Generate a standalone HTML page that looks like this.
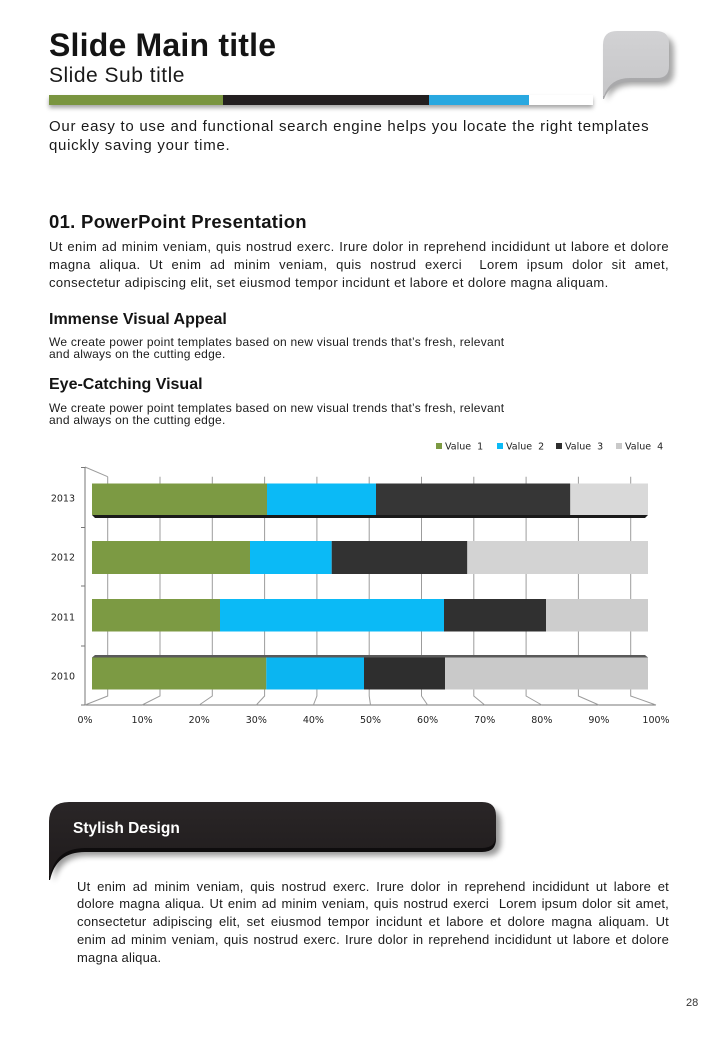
<!DOCTYPE html>
<html><head><meta charset="utf-8">
<style>
html,body{margin:0;padding:0;background:#fff;}
body{width:720px;height:1040px;position:relative;overflow:hidden;font-family:"Liberation Sans",sans-serif;color:#1c1c1c;}
.a{position:absolute;white-space:nowrap;}
.j{text-align:justify;text-align-last:justify;}
.b{font-weight:bold;}
</style></head>
<body>
<svg class="a" style="left:0;top:0" width="720" height="1040" viewBox="0 0 720 1040">
<defs>
<filter id="sh" x="-20%" y="-20%" width="150%" height="170%"><feGaussianBlur stdDeviation="3"/></filter>
<linearGradient id="bub" x1="0" y1="0" x2="0" y2="1"><stop offset="0" stop-color="#d2d2d4"/><stop offset="1" stop-color="#c6c6c8"/></linearGradient>
<linearGradient id="ban" x1="0" y1="0" x2="0" y2="1"><stop offset="0" stop-color="#2a2627"/><stop offset="1" stop-color="#1f1b1c"/></linearGradient>
</defs>
<!-- speech bubble -->
<path d="M619 36 H660 Q674 36 674 50 V72 Q674 85 661 85 H633 Q613 85 607 101 V51 Q607 36 619 36 Z" fill="#000" opacity="0.35" filter="url(#sh)"/>
<path d="M617 34 H656 Q669 34 669 48 V70 Q669 82 657 82 H630 Q610 82 604 99 L603 99 V48 Q603 34 617 34 Z" fill="#a9a9ab"/>
<path d="M617 31 H656 Q669 31 669 44 V66 Q669 78 657 78 H630 Q610 78 604 96 L603 96 V45 Q603 31 617 31 Z" fill="url(#bub)"/>
<!-- banner -->
<path d="M72 808 H486 Q501 808 501 823 V842 Q501 856 487 856 H88 Q60 856 54 882 V828 Q54 808 72 808 Z" fill="#000" opacity="0.4" filter="url(#sh)"/>
<path d="M69 805 H482 Q496 805 496 819 V839 Q496 852 482 852 H85 Q56 852 50 880 L49 880 V825 Q49 805 69 805 Z" fill="#0e0c0d"/>
<path d="M69 802 H482 Q496 802 496 816 V835 Q496 848 482 848 H85 Q56 848 50 876 L49 876 V822 Q49 802 69 802 Z" fill="url(#ban)"/>

<!-- chart grid -->
<g stroke="#9c9c9c" stroke-width="1" fill="none">
<polyline points="85,467 107.7,476.7"/>
<line x1="85" y1="467" x2="85" y2="705" stroke="#777"/>
<line x1="85" y1="705" x2="656" y2="705" stroke="#777"/>
<polyline points="107.7,476.7 107.7,696 85,705"/>
<polyline points="160,476.7 160,696 142.1,705"/>
<polyline points="212.3,476.7 212.3,696 199.2,705"/>
<polyline points="264.6,476.7 264.6,696 256.3,705"/>
<polyline points="316.9,476.7 316.9,696 313.4,705"/>
<polyline points="369.2,476.7 369.2,696 370.5,705"/>
<polyline points="421.5,476.7 421.5,696 427.6,705"/>
<polyline points="473.8,476.7 473.8,696 484.7,705"/>
<polyline points="526.1,476.7 526.1,696 541.8,705"/>
<polyline points="578.4,476.7 578.4,696 598.9,705"/>
<polyline points="630.7,476.7 630.7,696 656,705"/>
</g>
<g stroke="#777" stroke-width="1">
<line x1="81" y1="467.5" x2="85" y2="467.5"/>
<line x1="81" y1="527.5" x2="85" y2="527.5"/>
<line x1="81" y1="586" x2="85" y2="586"/>
<line x1="81" y1="646" x2="85" y2="646"/>
<line x1="81" y1="705" x2="85" y2="705"/>
</g>
<!-- bars -->
<g>
<!-- 2013 -->
<polygon points="92,515 648,515 645,518 95,518" fill="#1a1a1a"/>
<rect x="92" y="483.5" width="175" height="31.5" fill="#7c9a43"/>
<rect x="267" y="483.5" width="109" height="31.5" fill="#0bbaf6"/>
<rect x="376" y="483.5" width="194.3" height="31.5" fill="#363636"/>
<rect x="570.3" y="483.5" width="77.7" height="31.5" fill="#d9d9d9"/>
<!-- 2012 -->
<rect x="92" y="541" width="158" height="33" fill="#7c9a43"/>
<rect x="250" y="541" width="81.7" height="33" fill="#0bbaf6"/>
<rect x="331.7" y="541" width="135.6" height="33" fill="#323232"/>
<rect x="467.3" y="541" width="180.7" height="33" fill="#d3d3d3"/>
<!-- 2011 -->
<rect x="92" y="599" width="128" height="32.5" fill="#7c9a43"/>
<rect x="220" y="599" width="224" height="32.5" fill="#0bbaf6"/>
<rect x="444" y="599" width="102" height="32.5" fill="#303030"/>
<rect x="546" y="599" width="102" height="32.5" fill="#cdcdcd"/>
<!-- 2010 -->
<polygon points="95,655 645,655 648,657.5 92,657.5" fill="#5a5a5a"/>
<rect x="92" y="657.5" width="174.3" height="32" fill="#7c9a43"/>
<rect x="266.3" y="657.5" width="97.7" height="32" fill="#0bb5f1"/>
<rect x="364" y="657.5" width="81" height="32" fill="#2e2e2e"/>
<rect x="445" y="657.5" width="203" height="32" fill="#c9c9c9"/>
</g>
<!-- labels -->
<g font-family="'DejaVu Sans','Liberation Sans',sans-serif" font-size="9.5" fill="#222">
<text x="75" y="501.5" text-anchor="end">2013</text>
<text x="75" y="560.5" text-anchor="end">2012</text>
<text x="75" y="620.5" text-anchor="end">2011</text>
<text x="75" y="679.5" text-anchor="end">2010</text>
<text x="85" y="723" text-anchor="middle">0%</text>
<text x="142.1" y="723" text-anchor="middle">10%</text>
<text x="199.2" y="723" text-anchor="middle">20%</text>
<text x="256.3" y="723" text-anchor="middle">30%</text>
<text x="313.4" y="723" text-anchor="middle">40%</text>
<text x="370.5" y="723" text-anchor="middle">50%</text>
<text x="427.6" y="723" text-anchor="middle">60%</text>
<text x="484.7" y="723" text-anchor="middle">70%</text>
<text x="541.8" y="723" text-anchor="middle">80%</text>
<text x="598.9" y="723" text-anchor="middle">90%</text>
<text x="656" y="723" text-anchor="middle">100%</text>
</g>
<g font-family="'DejaVu Sans','Liberation Sans',sans-serif" font-size="9.5" fill="#222">
<rect x="436" y="443" width="6" height="6" fill="#7c9a43"/>
<text x="445" y="449.5" xml:space="preserve">Value  1</text>
<rect x="497" y="443" width="6" height="6" fill="#0bbaf6"/>
<text x="506" y="449.5" xml:space="preserve">Value  2</text>
<rect x="556" y="443" width="6" height="6" fill="#2e2e2e"/>
<text x="565" y="449.5" xml:space="preserve">Value  3</text>
<rect x="616" y="443" width="6" height="6" fill="#c9c9c9"/>
<text x="625" y="449.5" xml:space="preserve">Value  4</text>
</g>
</svg>

<!-- header -->
<div class="a b" style="left:49px;top:29px;font-size:32px;line-height:32px;color:#141414;letter-spacing:0.2px;">Slide Main title</div>
<div class="a" style="left:49px;top:65px;font-size:21px;line-height:21px;color:#1a1a1a;letter-spacing:0.5px;">Slide Sub title</div>
<div class="a" style="left:49px;top:95px;width:544px;height:10px;box-shadow:0 3px 4px rgba(0,0,0,0.35);background:#fff;">
  <div class="a" style="left:0;top:0;width:174px;height:10px;background:#7a9540;"></div>
  <div class="a" style="left:174px;top:0;width:206px;height:10px;background:#231f20;"></div>
  <div class="a" style="left:380px;top:0;width:100px;height:10px;background:#29a8e0;"></div>
</div>
<div class="a" style="left:49px;top:116.5px;font-size:15px;line-height:19.5px;color:#1a1a1a;letter-spacing:0.72px;">Our easy to use and functional search engine helps you locate the right templates<br>quickly saving your time.</div>

<!-- section 01 -->
<div class="a b" style="left:49px;top:211.5px;font-size:18.5px;line-height:20px;color:#141414;letter-spacing:0.3px;">01. PowerPoint Presentation</div>
<div class="a" style="left:49px;top:237.5px;width:620px;font-size:13px;line-height:18px;color:#1c1c1c;letter-spacing:0.4px;">
  <div class="j">Ut enim ad minim veniam, quis nostrud exerc. Irure dolor in reprehend incididunt ut labore et dolore</div>
  <div class="j">magna aliqua. Ut enim ad minim veniam, quis nostrud exerci &nbsp;Lorem ipsum dolor sit amet,</div>
  <div>consectetur adipiscing elit, set eiusmod tempor incidunt et labore et dolore magna aliquam.</div>
</div>
<div class="a b" style="left:49px;top:310.5px;font-size:16px;line-height:18px;color:#141414;">Immense Visual Appeal</div>
<div class="a" style="left:49px;top:335.5px;font-size:12px;line-height:12.8px;color:#1c1c1c;letter-spacing:0.25px;">We create power point templates based on new visual trends that’s fresh, relevant<br>and always on the cutting edge.</div>
<div class="a b" style="left:49px;top:375.5px;font-size:16px;line-height:18px;color:#141414;">Eye-Catching Visual</div>
<div class="a" style="left:49px;top:401.5px;font-size:12px;line-height:12.8px;color:#1c1c1c;letter-spacing:0.25px;">We create power point templates based on new visual trends that’s fresh, relevant<br>and always on the cutting edge.</div>

<!-- banner text -->
<div class="a b" style="left:73px;top:820px;font-size:15.5px;line-height:18px;color:#fff;">Stylish Design</div>
<div class="a" style="left:77px;top:877.5px;width:592px;font-size:13px;line-height:17.8px;color:#1c1c1c;letter-spacing:0.2px;">
  <div class="j">Ut enim ad minim veniam, quis nostrud exerc. Irure dolor in reprehend incididunt ut labore et</div>
  <div class="j">dolore magna aliqua. Ut enim ad minim veniam, quis nostrud exerci &nbsp;Lorem ipsum dolor sit amet,</div>
  <div class="j">consectetur adipiscing elit, set eiusmod tempor incidunt et labore et dolore magna aliquam. Ut</div>
  <div class="j">enim ad minim veniam, quis nostrud exerc. Irure dolor in reprehend incididunt ut labore et dolore</div>
  <div>magna aliqua.</div>
</div>
<div class="a" style="left:686px;top:996px;font-size:11px;line-height:14px;color:#333;">28</div>
</body></html>
